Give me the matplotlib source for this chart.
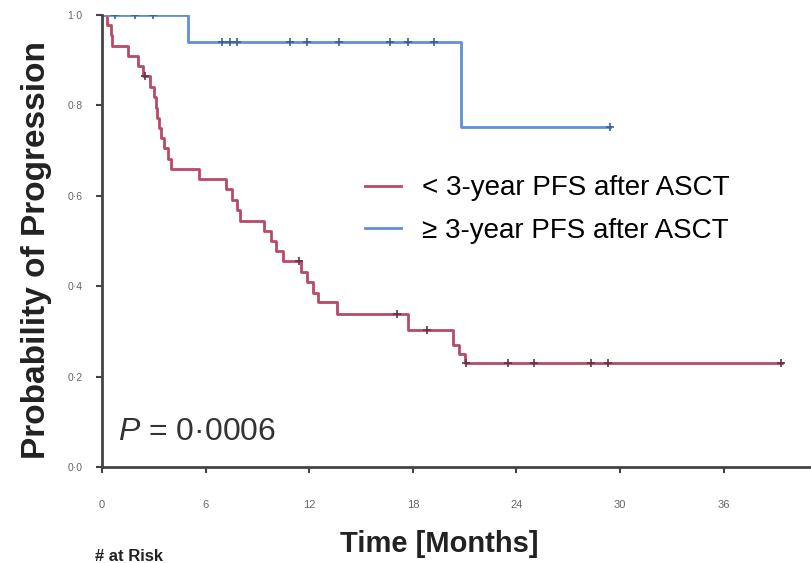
import matplotlib
matplotlib.use("Agg")
import matplotlib.pyplot as plt

plt.rcParams['font.family'] = ['Liberation Sans', 'DejaVu Sans']
plt.rcParams['mathtext.fontset'] = 'custom'
plt.rcParams['mathtext.it'] = 'Liberation Sans:italic'
plt.rcParams['mathtext.rm'] = 'Liberation Sans'

# Kaplan-Meier steps
red_t = [0, 0.3, 0.5, 0.6, 1.5, 2.1, 2.4, 2.8, 3.0, 3.1, 3.2, 3.3, 3.4, 3.6, 3.8, 4.0,
         5.6, 7.2, 7.5, 7.8, 8.0, 9.4, 9.8, 10.1, 10.5, 11.5, 11.9, 12.2, 12.5,
         13.6, 17.7, 20.3, 20.7, 21.0, 39.4]
red_s = [1.0, 0.977, 0.955, 0.932, 0.91, 0.886, 0.864, 0.841, 0.818, 0.795, 0.773, 0.75,
         0.727, 0.705, 0.682, 0.659, 0.636, 0.614, 0.591, 0.568, 0.545, 0.523, 0.5,
         0.477, 0.455, 0.432, 0.409, 0.386, 0.364, 0.338, 0.304, 0.27, 0.25, 0.231, 0.231]
red_cens_t = [2.5, 11.4, 17.1, 18.8, 21.1, 23.5, 25.0, 28.3, 29.3, 39.3]
red_cens_s = [0.864, 0.455, 0.338, 0.304, 0.231, 0.231, 0.231, 0.231, 0.231, 0.231]

blue_t = [0, 5.0, 20.8, 29.4]
blue_s = [1.0, 0.941, 0.753, 0.753]
blue_cens_t = [0.75, 1.9, 2.95, 6.95, 7.4, 7.8, 10.9, 11.9, 13.7, 16.7, 17.7, 19.2, 29.4]
blue_cens_s = [1.0, 1.0, 1.0, 0.941, 0.941, 0.941, 0.941, 0.941, 0.941, 0.941, 0.941,
               0.941, 0.753]

x_ticks = [0, 6, 12, 18, 24, 30, 36]
y_ticks = [0.0, 0.2, 0.4, 0.6, 0.8, 1.0]
y_tick_labels = ['0·0', '0·2', '0·4', '0·6', '0·8', '1·0']
labels = ['< 3-year PFS after ASCT', '≥ 3-year PFS after ASCT']

red = '#b84a68'
blue = '#5f8fd8'

fig = plt.figure(figsize=(8.12, 5.63), dpi=100)
ax = fig.add_axes([0.1256, 0.1705, 0.872, 0.803])

ax.step(red_t, red_s, where='post', color=red, lw=2, label=labels[0])
ax.step(blue_t, blue_s, where='post', color=blue, lw=2, label=labels[1])
ax.plot(red_cens_t, red_cens_s, '+', color='#6a3040', ms=6, mew=1.2)
ax.plot(blue_cens_t, blue_cens_s, '+', color='#3c5f96', ms=6, mew=1.2)

ax.set_xlim(0, 41)
ax.set_ylim(0, 1.0)
ax.set_xticks(x_ticks)
ax.set_yticks(y_ticks)
ax.set_yticklabels(y_tick_labels)

for s in ['top', 'right']:
    ax.spines[s].set_visible(False)
for s in ['left', 'bottom']:
    ax.spines[s].set_color('#444444')
    ax.spines[s].set_linewidth(2)
    ax.spines[s].set_clip_on(False)

ax.tick_params(axis='x', length=4, width=1.5, color='#444444', pad=20,
               labelsize=8, labelcolor='#666666')
ax.tick_params(axis='y', length=4, width=1.5, color='#444444', pad=10,
               labelsize=7.5, labelcolor='#666666')

ax.set_ylabel('Probability of Progression', fontsize=24, fontweight='bold', color='#222222')
ax.yaxis.set_label_coords(-0.07, 0.48)
ax.set_xlabel('Time [Months]', fontsize=21, fontweight='bold', color='#222222')
ax.xaxis.set_label_coords(0.477, -0.14)

ax.legend(loc='upper left', bbox_to_anchor=(0.371, 0.645), frameon=False, fontsize=20,
          handlelength=1.3, handletextpad=0.75, labelspacing=0.6, borderpad=0,
          borderaxespad=0)

ax.text(0.9, 0.078, '$P$ = 0·0006', fontsize=23, va='center', ha='left', color='#333333')

fig.text(0.117, 0.024, '# at Risk', fontsize=12, fontweight='bold', va='top', ha='left',
         color='#222222')

fig.savefig('out.png', dpi=100)
